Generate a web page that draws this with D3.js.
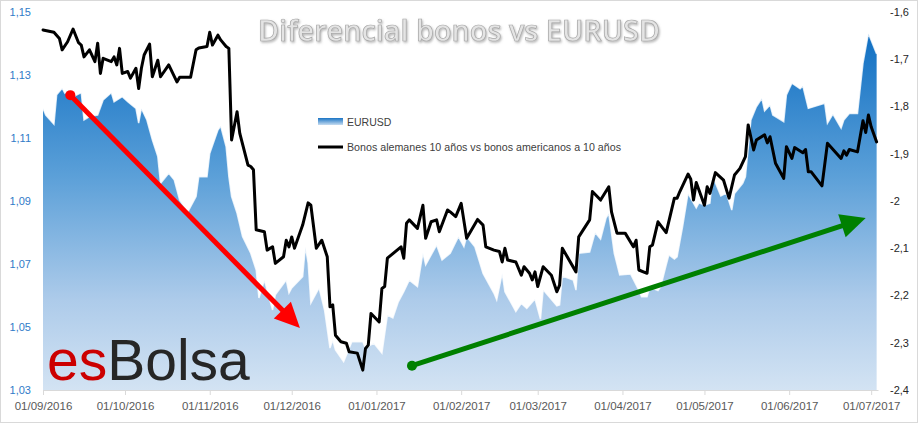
<!DOCTYPE html>
<html>
<head>
<meta charset="utf-8">
<script src="https://cdn.jsdelivr.net/npm/d3@7"></script>
<style>
body { margin: 0; background: #fff; }
svg { display: block; }
</style>
</head>
<body>
<svg id="chart" width="918" height="423"></svg>
<script>
// ================= DATA =================
// EURUSD (left axis)
const eurusd = [
["2016-09-01",1.1194],["2016-09-02",1.1173],["2016-09-05",1.1144],["2016-09-06",1.1237],["2016-09-08",1.1258],
["2016-09-09",1.1242],["2016-09-10",1.1247],["2016-09-12",1.1231],["2016-09-15",1.1244],["2016-09-16",1.1157],
["2016-09-18",1.1168],["2016-09-21",1.1173],["2016-09-23",1.1221],["2016-09-26",1.1244],["2016-09-27",1.1215],
["2016-09-30",1.1231],["2016-10-02",1.1215],["2016-10-05",1.1194],["2016-10-06",1.1147],["2016-10-07",1.1194],
["2016-10-09",1.1157],["2016-10-11",1.1094],["2016-10-13",1.1041],["2016-10-14",1.0956],["2016-10-17",1.0988],
["2016-10-19",1.0967],["2016-10-21",1.0903],["2016-10-24",1.0866],["2016-10-26",1.0898],["2016-10-27",1.0914],
["2016-10-28",1.0977],["2016-10-31",1.0977],["2016-11-01",1.1051],["2016-11-04",1.1125],["2016-11-05",1.1138],
["2016-11-07",1.1072],["2016-11-08",1.0977],["2016-11-09",1.0914],["2016-11-11",1.0861],["2016-11-13",1.0787],
["2016-11-16",1.0734],["2016-11-18",1.0681],["2016-11-19",1.0592],["2016-11-21",1.0649],["2016-11-24",1.0554],
["2016-11-25",1.0602],["2016-11-29",1.0649],["2016-11-30",1.0608],["2016-12-01",1.0624],["2016-12-05",1.0660],
["2016-12-06",1.0755],["2016-12-07",1.0703],["2016-12-08",1.0576],["2016-12-11",1.0624],["2016-12-13",1.0554],
["2016-12-15",1.0433],["2016-12-16",1.0459],["2016-12-17",1.0427],["2016-12-20",1.0390],["2016-12-23",1.0453],
["2016-12-27",1.0453],["2016-12-28",1.0433],["2016-12-31",1.0449],["2017-01-03",1.0417],["2017-01-05",1.0538],
["2017-01-07",1.0529],["2017-01-09",1.0580],["2017-01-11",1.0612],["2017-01-13",1.0649],["2017-01-16",1.0628],
["2017-01-18",1.0735],["2017-01-19",1.0697],["2017-01-23",1.0760],["2017-01-25",1.0713],["2017-01-28",1.0734],
["2017-01-31",1.0787],["2017-02-02",1.0755],["2017-02-03",1.0787],["2017-02-06",1.0755],["2017-02-09",1.0670],
["2017-02-13",1.0607],["2017-02-14",1.0586],["2017-02-16",1.0670],["2017-02-17",1.0612],["2017-02-21",1.0549],
["2017-02-23",1.0575],["2017-02-25",1.0559],["2017-02-28",1.0589],["2017-03-02",1.0525],["2017-03-03",1.0618],
["2017-03-08",1.0567],["2017-03-09",1.0570],["2017-03-10",1.0662],["2017-03-14",1.0649],["2017-03-15",1.0617],
["2017-03-16",1.0734],["2017-03-20",1.0738],["2017-03-22",1.0800],["2017-03-24",1.0779],["2017-03-26",1.0846],
["2017-03-27",1.0861],["2017-03-29",1.0734],["2017-03-31",1.0665],["2017-04-04",1.0668],["2017-04-07",1.0617],
["2017-04-08",1.0596],["2017-04-10",1.0596],["2017-04-11",1.0627],["2017-04-14",1.0616],["2017-04-15",1.0628],
["2017-04-17",1.0697],["2017-04-18",1.0729],["2017-04-20",1.0716],["2017-04-21",1.0723],["2017-04-23",1.0818],
["2017-04-25",1.0924],["2017-04-28",1.0878],["2017-04-29",1.0894],["2017-05-01",1.0887],["2017-05-03",1.0893],
["2017-05-04",1.0979],["2017-05-07",1.0916],["2017-05-09",1.0925],["2017-05-11",1.0871],["2017-05-12",1.0924],
["2017-05-15",1.0956],["2017-05-16",1.0977],["2017-05-18",1.1157],["2017-05-20",1.1199],["2017-05-22",1.1226],
["2017-05-23",1.1186],["2017-05-25",1.1205],["2017-05-26",1.1173],["2017-05-30",1.1152],["2017-05-31",1.1237],
["2017-06-02",1.1274],["2017-06-05",1.1256],["2017-06-06",1.1265],["2017-06-08",1.1194],["2017-06-14",1.1210],
["2017-06-15",1.1147],["2017-06-17",1.1176],["2017-06-20",1.1131],["2017-06-21",1.1157],["2017-06-23",1.1178],
["2017-06-26",1.1178],["2017-06-28",1.1337],["2017-06-30",1.1432],["2017-07-03",1.1367]
];

// Diferencial bonos alemanes 10a vs americanos 10a (right axis)
const spread = [
["2016-09-01",-1.638],["2016-09-05",-1.643],["2016-09-07",-1.656],["2016-09-08",-1.680],["2016-09-10",-1.663],
["2016-09-12",-1.636],["2016-09-14",-1.665],["2016-09-15",-1.670],["2016-09-16",-1.695],["2016-09-18",-1.680],
["2016-09-20",-1.705],["2016-09-21",-1.666],["2016-09-22",-1.730],["2016-09-23",-1.698],["2016-09-26",-1.705],
["2016-09-27",-1.695],["2016-09-28",-1.712],["2016-09-29",-1.677],["2016-09-30",-1.730],["2016-10-02",-1.726],
["2016-10-03",-1.740],["2016-10-05",-1.719],["2016-10-06",-1.762],["2016-10-07",-1.719],["2016-10-08",-1.691],
["2016-10-10",-1.668],["2016-10-11",-1.737],["2016-10-13",-1.702],["2016-10-14",-1.737],["2016-10-17",-1.712],
["2016-10-20",-1.748],["2016-10-21",-1.738],["2016-10-25",-1.738],["2016-10-27",-1.680],["2016-10-28",-1.676],
["2016-10-31",-1.673],["2016-11-01",-1.643],["2016-11-02",-1.670],["2016-11-04",-1.649],["2016-11-05",-1.659],
["2016-11-07",-1.673],["2016-11-08",-1.677],["2016-11-09",-1.871],["2016-11-11",-1.811],["2016-11-12",-1.857],
["2016-11-15",-1.924],["2016-11-16",-1.927],["2016-11-17",-1.934],["2016-11-18",-2.061],["2016-11-21",-2.065],
["2016-11-22",-2.104],["2016-11-24",-2.097],["2016-11-25",-2.132],["2016-11-28",-2.118],["2016-11-29",-2.083],
["2016-11-30",-2.097],["2016-12-01",-2.076],["2016-12-02",-2.100],["2016-12-05",-2.051],["2016-12-07",-2.004],
["2016-12-08",-2.009],["2016-12-10",-2.100],["2016-12-12",-2.083],["2016-12-14",-2.118],["2016-12-15",-2.224],
["2016-12-16",-2.220],["2016-12-17",-2.284],["2016-12-19",-2.298],["2016-12-21",-2.301],["2016-12-22",-2.319],
["2016-12-25",-2.322],["2016-12-27",-2.358],["2016-12-28",-2.312],["2016-12-29",-2.305],["2016-12-30",-2.238],
["2017-01-02",-2.256],["2017-01-03",-2.185],["2017-01-04",-2.181],["2017-01-05",-2.121],["2017-01-10",-2.097],
["2017-01-11",-2.121],["2017-01-12",-2.047],["2017-01-13",-2.040],["2017-01-16",-2.058],["2017-01-18",-2.009],
["2017-01-19",-2.079],["2017-01-21",-2.044],["2017-01-23",-2.040],["2017-01-24",-2.065],["2017-01-27",-2.019],
["2017-01-28",-2.023],["2017-01-30",-2.033],["2017-02-01",-2.005],["2017-02-03",-2.079],["2017-02-07",-2.039],
["2017-02-09",-2.051],["2017-02-10",-2.097],["2017-02-13",-2.104],["2017-02-15",-2.107],["2017-02-16",-2.129],
["2017-02-17",-2.100],["2017-02-18",-2.125],["2017-02-21",-2.129],["2017-02-23",-2.157],["2017-02-24",-2.139],
["2017-02-26",-2.153],["2017-02-27",-2.167],["2017-02-28",-2.150],["2017-03-01",-2.181],["2017-03-03",-2.139],
["2017-03-06",-2.157],["2017-03-08",-2.192],["2017-03-09",-2.178],["2017-03-10",-2.100],["2017-03-15",-2.150],
["2017-03-16",-2.076],["2017-03-20",-2.040],["2017-03-21",-1.980],["2017-03-24",-1.998],["2017-03-27",-1.970],
["2017-03-28",-2.023],["2017-03-30",-2.068],["2017-04-02",-2.068],["2017-04-05",-2.097],["2017-04-06",-2.083],
["2017-04-07",-2.146],["2017-04-10",-2.153],["2017-04-11",-2.097],["2017-04-12",-2.093],["2017-04-14",-2.044],
["2017-04-17",-2.067],["2017-04-20",-1.994],["2017-04-21",-1.994],["2017-04-22",-1.980],["2017-04-25",-1.943],
["2017-04-26",-1.954],["2017-04-27",-1.998],["2017-04-28",-1.961],["2017-05-01",-2.009],["2017-05-02",-1.970],
["2017-05-03",-1.984],["2017-05-05",-1.940],["2017-05-08",-1.956],["2017-05-10",-1.994],["2017-05-12",-1.945],
["2017-05-14",-1.931],["2017-05-16",-1.906],["2017-05-17",-1.839],["2017-05-19",-1.892],["2017-05-20",-1.871],
["2017-05-23",-1.860],["2017-05-24",-1.877],["2017-05-25",-1.864],["2017-05-27",-1.920],["2017-05-30",-1.952],
["2017-05-31",-1.885],["2017-06-02",-1.910],["2017-06-03",-1.887],["2017-06-06",-1.898],["2017-06-07",-1.891],
["2017-06-08",-1.938],["2017-06-09",-1.938],["2017-06-13",-1.968],["2017-06-15",-1.878],["2017-06-20",-1.910],
["2017-06-21",-1.894],["2017-06-22",-1.903],["2017-06-23",-1.891],["2017-06-26",-1.896],["2017-06-28",-1.830],
["2017-06-29",-1.855],["2017-06-30",-1.818],["2017-07-01",-1.843],["2017-07-03",-1.875]
];

const leftTicks = [1.03, 1.05, 1.07, 1.09, 1.11, 1.13, 1.15];
const rightTicks = [-2.4, -2.3, -2.2, -2.1, -2, -1.9, -1.8, -1.7, -1.6];
const monthTicks = ["2016-09-01","2016-10-01","2016-11-01","2016-12-01","2017-01-01","2017-02-01",
                    "2017-03-01","2017-04-01","2017-05-01","2017-06-01","2017-07-01"];
const titleText = "Diferencial bonos vs EURUSD";
const legendLabels = ["EURUSD", "Bonos alemanes 10 años vs bonos americanos a 10 años"];
// trend arrows, in chart coordinates (date, EURUSD value)
const downTrend = [["2016-09-11", 1.1236], ["2016-12-04", 1.0497]];
const upTrend = [["2017-01-14", 1.0377], ["2017-06-29", 1.0846]];

// ================= SCALES =================
const parse = d3.utcParse("%Y-%m-%d");
const svg = d3.select("#chart");
const plot = {left: 43, right: 878, top: 12, bottom: 390};

const x = d3.scaleUtc()
    .domain([parse("2016-09-01"), d3.utcHour.offset(parse("2017-07-03"), 12)])
    .range([plot.left, plot.right]);
const yL = d3.scaleLinear().domain([1.03, 1.15]).range([plot.bottom, plot.top]);
const yR = d3.scaleLinear().domain([-2.4, -1.6]).range([plot.bottom, plot.top]);

const eur = eurusd.map(d => ({date: parse(d[0]), v: d[1]}));
const spr = spread.map(d => ({date: parse(d[0]), v: d[1]}));

// ================= DEFS =================
const defs = svg.append("defs");
const g1 = defs.append("linearGradient").attr("id", "areaGrad")
    .attr("gradientUnits", "userSpaceOnUse")
    .attr("x1", 0).attr("x2", 0).attr("y1", 30).attr("y2", plot.bottom);
g1.append("stop").attr("offset", "0%").attr("stop-color", "#0e6ec2");
g1.append("stop").attr("offset", "40%").attr("stop-color", "#5a9fd8");
g1.append("stop").attr("offset", "75%").attr("stop-color", "#adcbea");
g1.append("stop").attr("offset", "100%").attr("stop-color", "#d3e3f3");

const g2 = defs.append("linearGradient").attr("id", "legGrad")
    .attr("x1", 0).attr("x2", 0).attr("y1", 0).attr("y2", 1);
g2.append("stop").attr("offset", "0%").attr("stop-color", "#1a74c4");
g2.append("stop").attr("offset", "100%").attr("stop-color", "#c6dcf1");

const sh = defs.append("filter").attr("id", "shadow")
    .attr("x", "-5%").attr("y", "-20%").attr("width", "110%").attr("height", "150%");
sh.append("feDropShadow").attr("dx", 1).attr("dy", 1.5).attr("stdDeviation", 1)
    .attr("flood-color", "#7f7f7f").attr("flood-opacity", 0.55);

// border
svg.append("rect").attr("x", 0.5).attr("y", 0.5).attr("width", 917).attr("height", 422)
    .attr("fill", "#fff").attr("stroke", "#d9d9d9");

// ================= AREA (EURUSD) =================
const area = d3.area()
    .x(d => x(d.date))
    .y0(plot.bottom)
    .y1(d => yL(d.v));

svg.append("path")
    .datum(eur)
    .attr("fill", "url(#areaGrad)")
    .attr("d", area);

// soft white edge on top of the area
svg.append("path")
    .datum(eur)
    .attr("fill", "none")
    .attr("stroke", "#ffffff")
    .attr("stroke-opacity", 0.8)
    .attr("stroke-width", 1.5)
    .attr("d", d3.line().x(d => x(d.date)).y(d => yL(d.v)));

// ================= AXES =================
const xAxis = svg.append("g")
    .attr("transform", "translate(0," + plot.bottom + ")")
    .call(d3.axisBottom(x)
        .tickValues(monthTicks.map(parse))
        .tickFormat(d3.utcFormat("%d/%m/%Y"))
        .tickSize(5).tickSizeOuter(0).tickPadding(7));
xAxis.select(".domain").attr("stroke", "#d9d9d9");
xAxis.selectAll(".tick line").attr("stroke", "#d9d9d9");
xAxis.selectAll(".tick text")
    .attr("fill", "#595959")
    .attr("font-family", "Liberation Sans, Arial, sans-serif")
    .attr("font-size", 11.5);

svg.append("g").selectAll("text")
    .data(leftTicks)
    .join("text")
    .attr("x", 31)
    .attr("y", d => yL(d))
    .attr("dy", "0.35em")
    .attr("text-anchor", "end")
    .attr("fill", "#2f7bc8")
    .attr("font-family", "Liberation Sans, Arial, sans-serif")
    .attr("font-size", 11)
    .text(d => d3.format(".2f")(d).replace(".", ","));

svg.append("g").selectAll("text")
    .data(rightTicks)
    .join("text")
    .attr("x", 890)
    .attr("y", d => yR(d))
    .attr("dy", "0.35em")
    .attr("text-anchor", "start")
    .attr("fill", "#262626")
    .attr("font-family", "Liberation Sans, Arial, sans-serif")
    .attr("font-size", 11)
    .text(d => String(+d.toFixed(1)).replace(".", ","));

// ================= LINE (spread) =================
svg.append("path")
    .datum(spr)
    .attr("fill", "none")
    .attr("stroke", "#000")
    .attr("stroke-width", 3)
    .attr("stroke-linejoin", "round")
    .attr("stroke-linecap", "round")
    .attr("d", d3.line().x(d => x(d.date)).y(d => yR(d.v)));

// ================= LOGO =================
const logo = svg.append("text")
    .attr("x", 47).attr("y", 380)
    .attr("font-family", "Liberation Sans, Arial, sans-serif")
    .attr("font-size", 57);
logo.append("tspan").attr("fill", "#cc0000").text("es");
logo.append("tspan").attr("fill", "#262626").text("Bolsa");

// ================= TREND ARROWS =================
function arrow(pts, color) {
    const x0 = x(parse(pts[0][0])), y0 = yL(pts[0][1]);
    const x1 = x(parse(pts[1][0])), y1 = yL(pts[1][1]);
    const ang = Math.atan2(y1 - y0, x1 - x0);
    const headLen = 25, headHalf = 12;
    const bx = x1 - headLen * Math.cos(ang), by = y1 - headLen * Math.sin(ang);
    const g = svg.append("g");
    g.append("line")
        .attr("x1", x0).attr("y1", y0).attr("x2", bx + 3 * Math.cos(ang)).attr("y2", by + 3 * Math.sin(ang))
        .attr("stroke", color).attr("stroke-width", 5);
    g.append("circle").attr("cx", x0).attr("cy", y0).attr("r", 5).attr("fill", color);
    const px = -Math.sin(ang) * headHalf, py = Math.cos(ang) * headHalf;
    g.append("polygon")
        .attr("points", [[x1, y1], [bx + px, by + py], [bx - px, by - py]].map(p => p.join(",")).join(" "))
        .attr("fill", color);
}
arrow(downTrend, "#ff0000");
arrow(upTrend, "#008000");

// ================= LEGEND =================
const leg = svg.append("g")
    .attr("font-family", "Liberation Sans, Arial, sans-serif")
    .attr("font-size", 10.5)
    .attr("fill", "#404040");
leg.append("rect").attr("x", 318).attr("y", 118).attr("width", 25).attr("height", 7)
    .attr("fill", "url(#legGrad)");
leg.append("text").attr("x", 347).attr("y", 122).attr("dy", "0.35em").text(legendLabels[0]);
leg.append("line").attr("x1", 318).attr("x2", 343).attr("y1", 147).attr("y2", 147)
    .attr("stroke", "#000").attr("stroke-width", 3);
leg.append("text").attr("x", 347).attr("y", 147).attr("dy", "0.35em")
    .attr("textLength", 274).attr("lengthAdjust", "spacingAndGlyphs")
    .text(legendLabels[1]);

// ================= TITLE =================
svg.append("text")
    .attr("x", 258).attr("y", 41)
    .attr("font-family", "Open Sans, sans-serif")
    .attr("font-weight", 600)
    .attr("font-size", 28)
    .attr("textLength", 402).attr("lengthAdjust", "spacingAndGlyphs")
    .attr("fill", "#e4e4e4")
    .attr("stroke", "#a8a8a8")
    .attr("stroke-width", 0.7)
    .attr("filter", "url(#shadow)")
    .text(titleText);
</script>
</body>
</html>
